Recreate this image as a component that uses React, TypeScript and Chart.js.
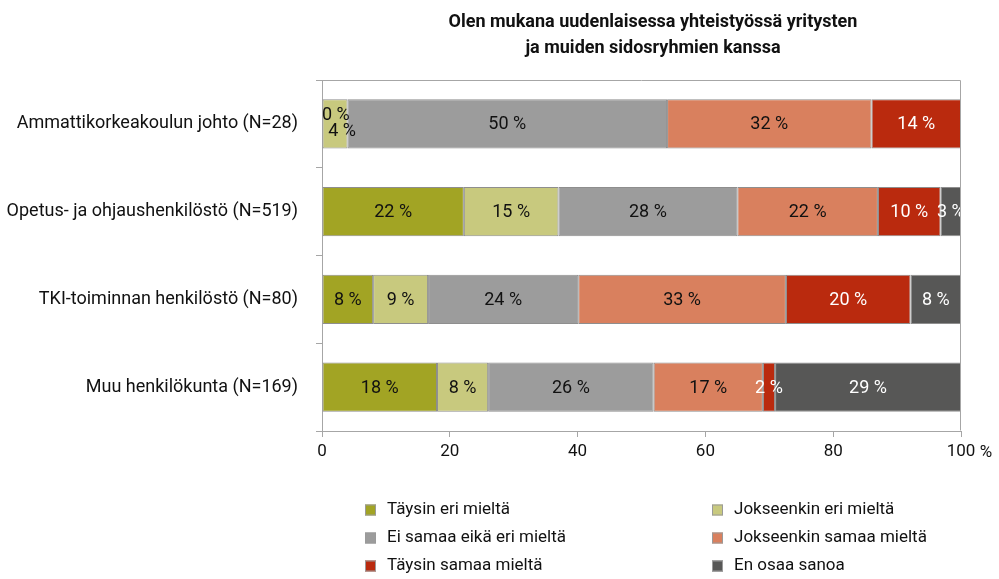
import React, { useEffect, useRef } from "react";
import { Chart, registerables } from "chart.js";

Chart.register(...registerables);

const titleLines = [
  "Olen mukana uudenlaisessa yhteistyössä yritysten",
  "ja muiden sidosryhmien kanssa",
];
const categories = [
  "Ammattikorkeakoulun johto (N=28)",
  "Opetus- ja ohjaushenkilöstö (N=519)",
  "TKI-toiminnan henkilöstö (N=80)",
  "Muu henkilökunta (N=169)",
];
const seriesNames = [
  "Täysin eri mieltä",
  "Jokseenkin eri mieltä",
  "Ei samaa eikä eri mieltä",
  "Jokseenkin samaa mieltä",
  "Täysin samaa mieltä",
  "En osaa sanoa",
];
const taysinEri = [0, 22.2, 8.0, 18.0];
const jokseenkinEri = [4.0, 14.8, 8.6, 8.0];
const eiSamaaEikaEri = [50.0, 28.0, 23.5, 25.9];
const jokseenkinSamaa = [32.0, 22.0, 32.5, 17.1];
const taysinSamaa = [14.0, 9.8, 19.5, 1.9];
const enOsaaSanoa = [null, 3.2, 7.9, 29.1];
const xTickValues = [0, 20, 40, 60, 80, 100];
const unitLabel = "%";

const seriesColors = ["#A2A424", "#C8C97E", "#9C9C9C", "#D9805E", "#BA2A0E", "#575756"];
const labelColors = ["#111", "#111", "#111", "#111", "#fff", "#fff"];

const FONT = 'Roboto, "Liberation Sans", sans-serif';

const framePlugin = {
  id: "frame",
  afterDraw(chart: any) {
    const { ctx, chartArea } = chart;
    ctx.save();
    ctx.strokeStyle = "#a6a6a6";
    ctx.lineWidth = 1;
    const l = Math.round(chartArea.left) + 0.5;
    const r = Math.round(chartArea.right) - 0.5;
    const t = Math.round(chartArea.top) + 0.5;
    const b = Math.round(chartArea.bottom) - 0.5;
    ctx.beginPath();
    ctx.moveTo(l, t);
    ctx.lineTo(r, t);
    ctx.lineTo(r, b);
    ctx.stroke();
    ctx.restore();
  },
};

const titlePlugin = {
  id: "customTitle",
  afterDraw(chart: any) {
    const { ctx } = chart;
    ctx.save();
    ctx.font = `bold 18px ${FONT}`;
    ctx.fillStyle = "#111";
    ctx.textAlign = "center";
    ctx.textBaseline = "middle";
    titleLines.forEach((line, i) => ctx.fillText(line, 653, 22 + i * 26));
    ctx.restore();
  },
};

const unitPlugin = {
  id: "unit",
  afterDraw(chart: any) {
    const { ctx, chartArea } = chart;
    ctx.save();
    ctx.font = `17px ${FONT}`;
    ctx.fillStyle = "#111";
    ctx.textAlign = "center";
    ctx.textBaseline = "middle";
    ctx.fillText(unitLabel, chartArea.right + 25, 453);
    ctx.restore();
  },
};

const valueLabelPlugin = {
  id: "valueLabels",
  afterDatasetsDraw(chart: any) {
    const { ctx } = chart;
    ctx.save();
    ctx.font = `18px ${FONT}`;
    ctx.textBaseline = "middle";
    chart.data.datasets.forEach((ds: any, di: number) => {
      const meta = chart.getDatasetMeta(di);
      meta.data.forEach((el: any, j: number) => {
        const v = ds.data[j];
        if (v === null || v === undefined) return;
        const text = `${Math.round(v)} %`;
        ctx.fillStyle = labelColors[di];
        const prev = di > 0 ? chart.data.datasets[di - 1].data[j] : null;
        if (v === 0) {
          ctx.fillStyle = "#111";
          ctx.textAlign = "left";
          ctx.fillText(text, el.base, el.y - 8);
        } else if (prev === 0) {
          ctx.textAlign = "center";
          ctx.fillText(text, (el.x + el.base) / 2 + 7, el.y + 8);
        } else {
          ctx.textAlign = "center";
          ctx.fillText(text, (el.x + el.base) / 2, el.y + 1);
        }
      });
    });
    ctx.restore();
  },
};

const legendPlugin = {
  id: "gridLegend",
  afterDraw(chart: any) {
    const { ctx } = chart;
    ctx.save();
    ctx.font = `17px ${FONT}`;
    ctx.textBaseline = "middle";
    ctx.textAlign = "left";
    const colX = [365, 712];
    const rowY = [510, 538, 566];
    chart.data.datasets.forEach((ds: any, i: number) => {
      const x = colX[i % 2];
      const y = rowY[Math.floor(i / 2)];
      ctx.fillStyle = ds.backgroundColor;
      ctx.fillRect(x, y - 5.5, 11, 11);
      ctx.strokeStyle = "#9a9a9a";
      ctx.lineWidth = 1;
      ctx.strokeRect(x + 0.5, y - 5, 10, 10);
      ctx.fillStyle = "#111";
      ctx.fillText(ds.label, x + 22, y);
    });
    ctx.restore();
  },
};

export default function App() {
  const ref = useRef<HTMLCanvasElement>(null);
  useEffect(() => {
    document.body.style.margin = "0";
    const series = [taysinEri, jokseenkinEri, eiSamaaEikaEri, jokseenkinSamaa, taysinSamaa, enOsaaSanoa];
    const chart = new Chart(ref.current as HTMLCanvasElement, {
      type: "bar",
      data: {
        labels: categories,
        datasets: series.map((d, i) => ({
          label: seriesNames[i],
          data: d,
          backgroundColor: seriesColors[i],
          borderColor: "#8e8e8e",
          borderWidth: 1,
          borderSkipped: false,
          barPercentage: 0.56,
          categoryPercentage: 1,
        })),
      },
      options: {
        indexAxis: "y",
        animation: false,
        responsive: false,
        devicePixelRatio: 1,
        layout: { padding: { top: 80, right: 38, left: 0, bottom: 0 } },
        plugins: {
          legend: { display: false },
          title: { display: false },
          tooltip: { enabled: false },
        },
        scales: {
          x: {
            type: "linear",
            stacked: true,
            min: 0,
            max: 100,
            afterBuildTicks: (scale: any) => {
              scale.ticks = xTickValues.map((v) => ({ value: v }));
            },
            afterFit: (scale: any) => {
              scale.height = 148;
            },
            ticks: {
              color: "#111",
              font: { family: FONT, size: 17 },
              padding: 5,
              maxRotation: 0,
            },
            grid: { drawOnChartArea: false, drawTicks: true, tickLength: 6, color: "#a6a6a6" },
            border: { color: "#a6a6a6", width: 1 },
          },
          y: {
            type: "category",
            stacked: true,
            afterFit: (scale: any) => {
              scale.width = 322;
            },
            ticks: {
              color: "#111",
              font: { family: FONT, size: 18 },
              padding: 18,
            },
            grid: { offset: true, drawOnChartArea: false, drawTicks: true, tickLength: 6, color: "#a6a6a6" },
            border: { color: "#a6a6a6", width: 1 },
          },
        },
      } as any,
      plugins: [framePlugin, valueLabelPlugin, titlePlugin, unitPlugin, legendPlugin],
    });
    return () => chart.destroy();
  }, []);
  return (
    <div style={{ width: 999, height: 579, position: "relative", background: "#fff" }}>
      <canvas ref={ref} width={999} height={579} style={{ display: "block" }} />
    </div>
  );
}
